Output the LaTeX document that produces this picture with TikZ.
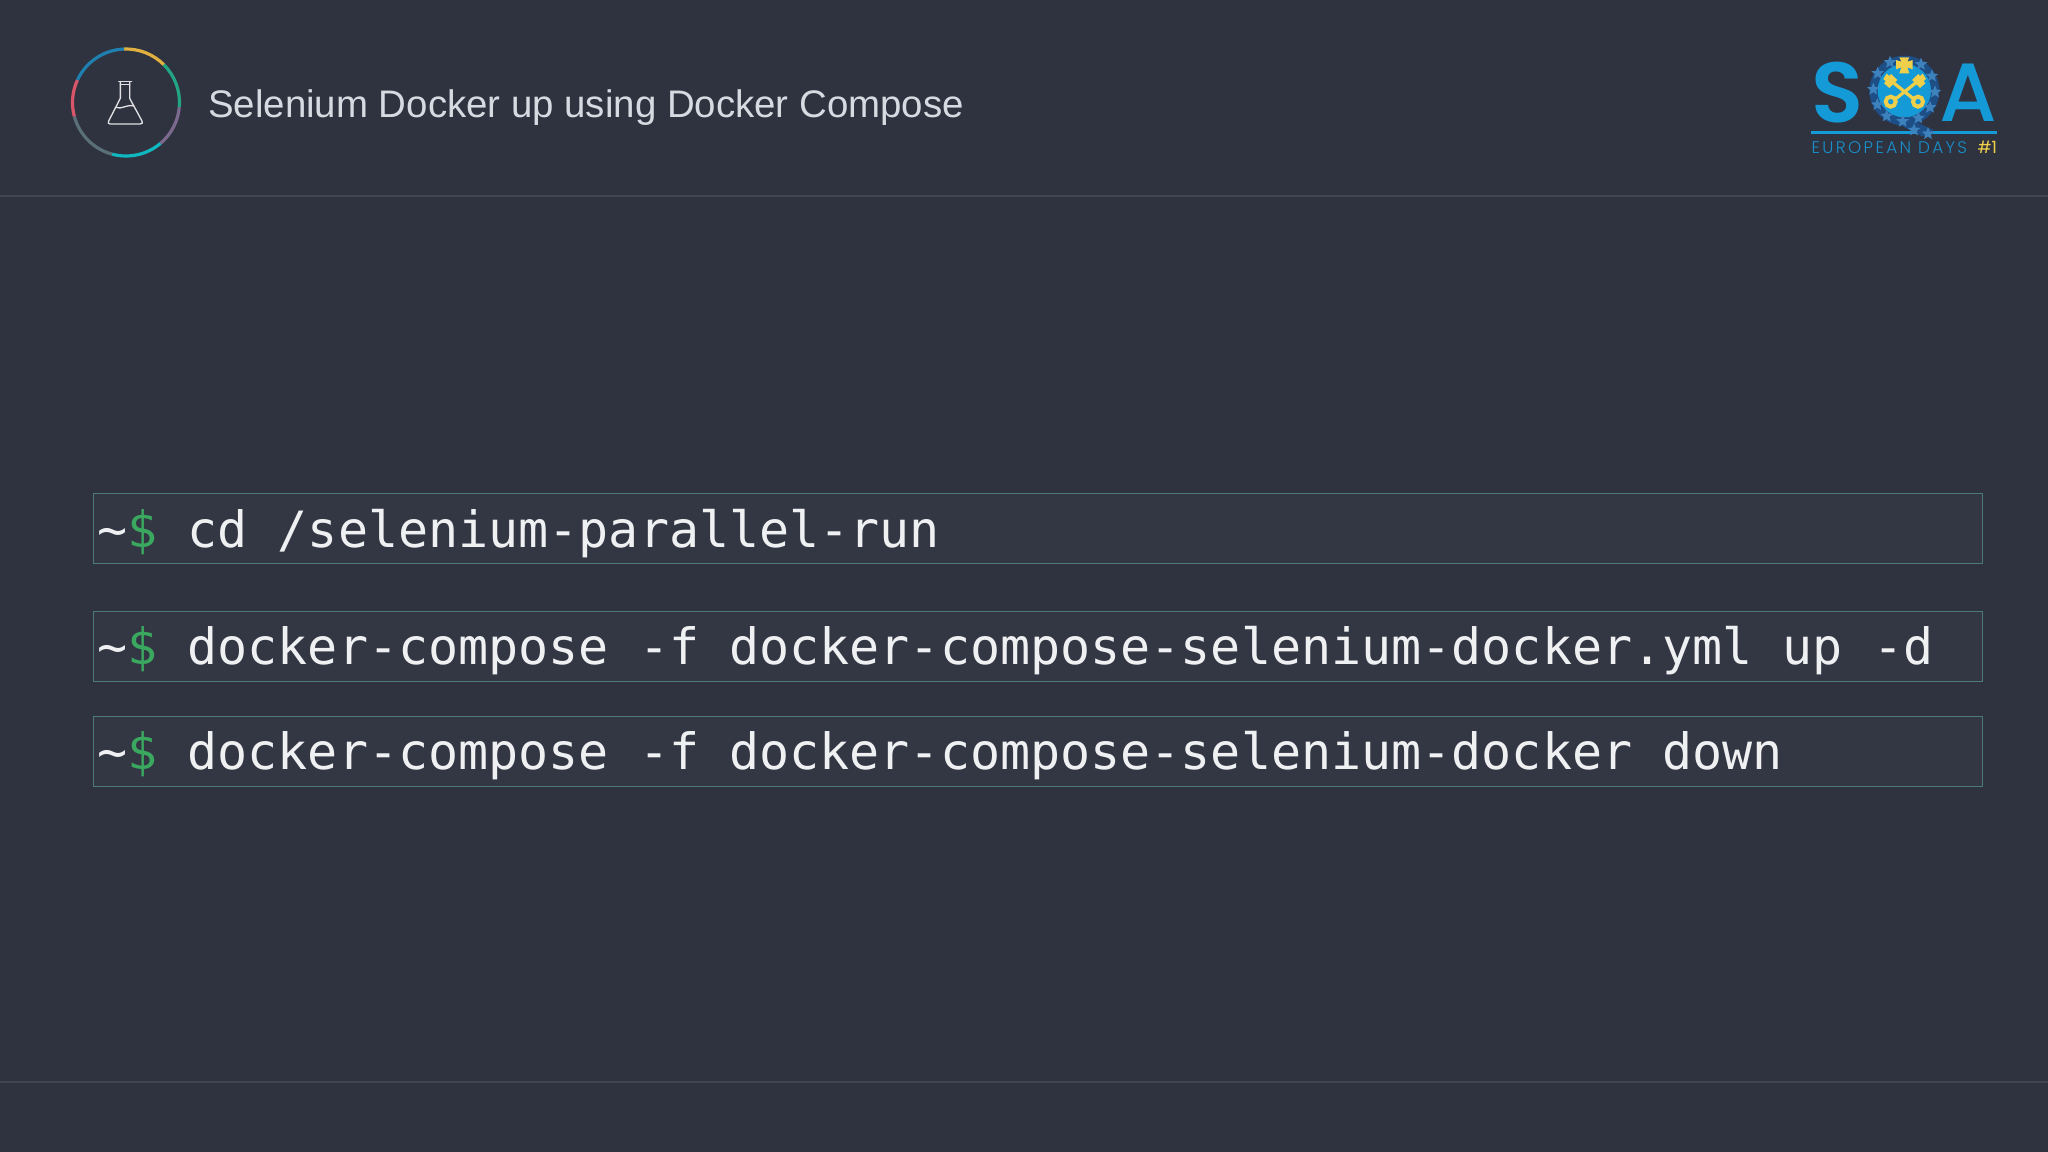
\documentclass[tikz,border=0pt]{standalone}
\usepackage{fontspec}
\usetikzlibrary{shapes.geometric}
\setmainfont{Liberation Sans}
\newfontfamily\termfont{DejaVu Sans Mono}
\newfontfamily\logofont{Poppins}
\newfontfamily\logomedium{Poppins Medium}
\newfontfamily\logosemi{Poppins SemiBold}
\newfontfamily\logospaced[LetterSpace=14]{Poppins Light}
\definecolor{bgc}{HTML}{2F323F}
\definecolor{boxc}{HTML}{333643}
\definecolor{boxline}{HTML}{4A7A7C}
\definecolor{rule}{HTML}{424552}
\definecolor{termc}{HTML}{EEF0F2}
\definecolor{dollar}{HTML}{3AA85F}
\definecolor{titlec}{HTML}{D8DAE2}
\definecolor{logob}{HTML}{159AD8}
\definecolor{ringb}{HTML}{1E4E86}
\definecolor{starb}{HTML}{3D82BD}
\definecolor{keyy}{HTML}{F0D04A}
\tikzset{
  cmdbox/.style={draw=boxline,fill=boxc,line width=.9pt,rectangle,inner sep=0pt,minimum width=1416.75pt,minimum height=52.5pt,anchor=north west},
  cmdtext/.style={inner sep=0pt,anchor=base west,text=termc,font=\termfont\fontsize{37.5pt}{40pt}\selectfont},
  seg/.style={line width=2.4pt},
  flask/.style={draw=white!85!bgc,line width=1pt,line join=round,line cap=round},
  keyline/.style={draw=keyy,line width=2.4pt,line cap=round},
  logoletter/.style={inner sep=0pt,anchor=base,text=logob,font=\logomedium\fontsize{62pt}{66pt}\selectfont},
  ministar/.style={star,star points=5,star point ratio=2.3,fill=starb,inner sep=0pt,minimum size=10pt}
}
\newcommand{\prompt}{\textasciitilde\textcolor{dollar}{\$}}
\begin{document}
\begin{tikzpicture}[x=.75pt,y=-.75pt]
\useasboundingbox (0,0) rectangle (2048,1152);
\fill[bgc] (0,0) rectangle (2048,1152);
\coordinate (hl) at (0,196); \coordinate (hr) at (2048,196);
\coordinate (fl) at (0,1082); \coordinate (fr) at (2048,1082);
\draw[rule,line width=.9pt] (hl) -- (hr);
\draw[rule,line width=.9pt] (fl) -- (fr);
% icon ring
\coordinate (ic) at (126,102.5);
\begin{scope}[shift={(ic)}]
\foreach \a/\b/\c in {92/45/E0B040,45/-5/23A584,-5/-50/7C6A8E,-50/-105/10B8C0,-105/-165/5A7078,-165/-205/D9566A,-205/-268/1F7FAE}{
  \definecolor{segc}{HTML}{\c}
  \draw[seg,color=segc] ({53.5*cos(\a)},{-53.5*sin(\a)}) arc[start angle=-\a,end angle=-\b,radius=53.5];
}
\end{scope}
% flask
\begin{scope}[shift={(40,20)},x=.25pt,y=-.25pt]
\draw[flask] (236,185) -- (275,185);
\draw[flask] (241,185) -- (241,235) -- (206,303) .. controls (203,309) and (205,312) .. (211,312)
  -- (300,312) .. controls (307,312) and (309,309) .. (306,303) -- (269,235) -- (269,185);
\draw[flask] (241,193) -- (269,193);
\draw[flask] (228,262) .. controls (245,270) and (258,252) .. (282,258);
\end{scope}
\node[inner sep=0pt,anchor=base west,text=titlec,font=\fontsize{28.8pt}{32pt}\selectfont] (title) at (208,117.5) {Selenium Docker up using Docker Compose};
% logo
\begin{scope}[shift={(1780,30)},x=.25pt,y=-.25pt]
\node[logoletter,font=\logosemi\fontsize{64pt}{68pt}\selectfont] (logoS) at (173,277) {S};
\node[logoletter] (logoA) at (566,275) {A};
\coordinate (ruleL) at (93,307); \coordinate (ruleR) at (650,307);
\draw[logob,line width=1.9pt] (ruleL) -- (ruleR);
\fill[ringb] (373,182) circle (105);
\fill[ringb] (395,270) -- (460,300) -- (450,322) -- (425,318) -- (360,285) -- cycle;
\fill[logob] (373,182) circle (80);
\foreach \i/\x/\y in {1/330/97,2/423/103,3/293/130,4/456/138,5/280/178,6/465/186,7/292/224,8/450/232,9/320/258,10/415/264,11/368/274,12/402/300,13/444/311}{
  \node[ministar] (st\i) at (\x,\y) {};
}
% cross
\fill[keyy] (358,82) -- (388,82) -- (382,95) -- (398,90) -- (398,118) -- (382,112) -- (388,130) -- (358,130) -- (364,112) -- (348,118) -- (348,90) -- (364,95) -- cycle;
% keys
\draw[keyline] (345,208) -- (418,150);
\draw[keyline] (402,208) -- (330,150);
\draw[keyy,line width=3pt] (332,215) circle (15);
\draw[keyy,line width=3pt] (414,215) circle (15);
\fill[keyy] (396,150) -- (415,132) -- (420,138) -- (428,131) -- (438,147) -- (431,153) -- (436,160) -- (420,174) -- cycle;
\fill[keyy] (352,150) -- (333,132) -- (328,138) -- (320,131) -- (310,147) -- (317,153) -- (312,160) -- (328,174) -- cycle;
\node[inner sep=0pt,anchor=base west,text=logob!90!bgc,font=\logospaced\fontsize{12.6pt}{14pt}\selectfont] (logoT) at (94,371) {EUROPEAN DAYS};
\node[inner sep=0pt,anchor=base east,text=keyy,font=\logofont\fontsize{12.6pt}{14pt}\selectfont] (logoN) at (652,371) {\#1};
\end{scope}
% command rows
\node[cmdbox] (b1) at (93,493) {};
\node[cmdbox] (b2) at (93,611) {};
\node[cmdbox] (b3) at (93,716) {};
\node[cmdtext] (t1) at (97,547) {\prompt{} cd /selenium-parallel-run};
\node[cmdtext] (t2) at (97,664) {\prompt{} docker-compose -f docker-compose-selenium-docker.yml up -d};
\node[cmdtext] (t3) at (97,769) {\prompt{} docker-compose -f docker-compose-selenium-docker down};
\end{tikzpicture}
\end{document}
